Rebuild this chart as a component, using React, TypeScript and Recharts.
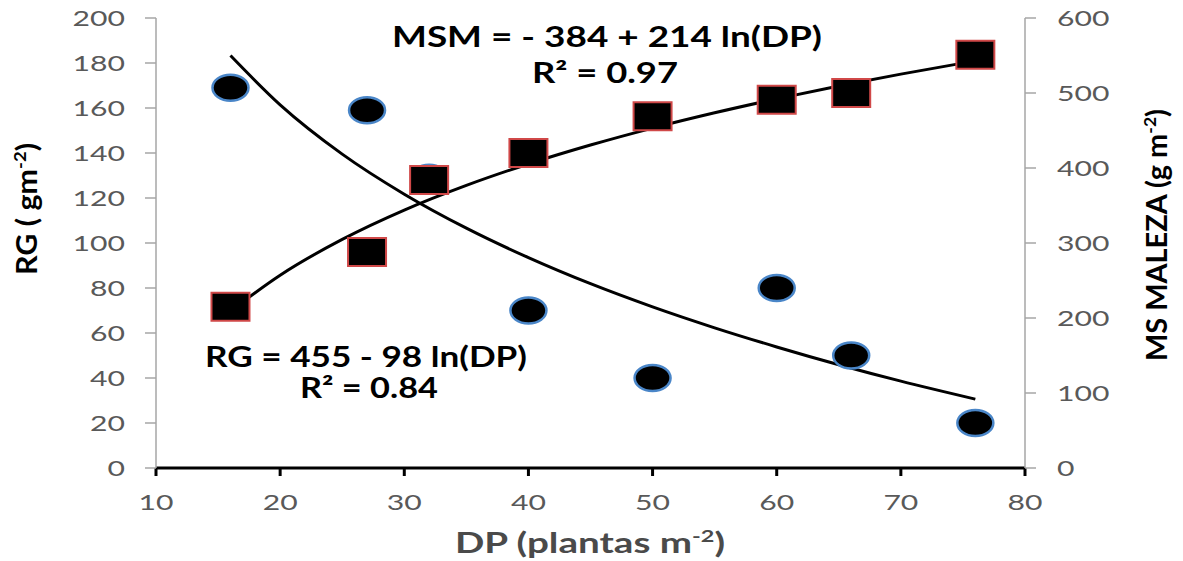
import React from 'react';
import { ComposedChart, Scatter, XAxis, YAxis, Customized } from 'recharts';

// ---- data ----
const dpTicks = [10, 20, 30, 40, 50, 60, 70, 80];
const rgTicks = [0, 20, 40, 60, 80, 100, 120, 140, 160, 180, 200];
const msTicks = [0, 100, 200, 300, 400, 500, 600];

const dpValues = [16, 27, 32, 40, 50, 60, 66, 76];
const rgValues = [169, 159, 129, 70, 40, 80, 50, 20];
const msmValues = [215, 288, 384, 420, 469, 491, 500, 551];

const trendDp = [16, 20, 25, 30, 35, 40, 45, 50, 55, 60, 65, 70, 76];
const rgTrendValues = [183.3, 161.4, 139.5, 121.7, 106.6, 93.5, 81.9, 71.6, 62.3, 53.8, 45.9, 38.6, 30.6];
const msmTrendValues = [209.3, 257.1, 304.8, 343.9, 376.8, 405.4, 430.6, 453.2, 473.6, 492.2, 509.3, 525.2, 542.8];

const rgData = dpValues.map((x, i) => ({ x, y: rgValues[i] }));
const msmData = dpValues.map((x, i) => ({ x, y: msmValues[i] }));
const rgTrend = trendDp.map((x, i) => ({ x, y: rgTrendValues[i] }));
const msmTrend = trendDp.map((x, i) => ({ x, y: msmTrendValues[i] }));

const FONT = 'Lato, "Open Sans", sans-serif';
const TICK_COLOR = '#595959';
const STRETCH = 1.37;

const LeftTick = (props: any) => {
  const { x, y, payload } = props;
  return (
    <g transform={`translate(${x},${y}) scale(${STRETCH},1)`}>
      <text x={0} y={0} dy="0.36em" textAnchor="end" fontFamily={FONT} fontSize={22} fill={TICK_COLOR}>
        {payload.value}
      </text>
    </g>
  );
};

const RightTick = (props: any) => {
  const { x, y, payload } = props;
  return (
    <g transform={`translate(${x},${y}) scale(${STRETCH},1)`}>
      <text x={0} y={0} dy="0.36em" textAnchor="start" fontFamily={FONT} fontSize={22} fill={TICK_COLOR}>
        {payload.value}
      </text>
    </g>
  );
};

const BottomTick = (props: any) => {
  const { x, y, payload } = props;
  return (
    <g transform={`translate(${x},${y}) scale(${STRETCH},1)`}>
      <text x={0} y={0} dy="0.72em" textAnchor="middle" fontFamily={FONT} fontSize={22} fill={TICK_COLOR}>
        {payload.value}
      </text>
    </g>
  );
};

const Circle = (props: any) => {
  const { cx, cy } = props;
  if (cx == null || cy == null) return <g />;
  return <ellipse cx={cx} cy={cy} rx={18} ry={13} fill="#000" stroke="#4a86c8" strokeWidth={2.5} />;
};

const Square = (props: any) => {
  const { cx, cy } = props;
  if (cx == null || cy == null) return <g />;
  return <rect x={cx - 19} y={cy - 14} width={38} height={28} fill="#000" stroke="#d04848" strokeWidth={2} />;
};

const NoShape = () => <g />;

const Annotations = () => (
  <g fontFamily={FONT} fontWeight="bold" fill="#000">
    <text x={392} y={47} fontSize={28} textLength={430} lengthAdjust="spacingAndGlyphs">
      MSM = - 384 + 214 ln(DP)
    </text>
    <text x={532} y={83} fontSize={28} textLength={146} lengthAdjust="spacingAndGlyphs">
      R² = 0.97
    </text>
    <text x={205} y={367} fontSize={28} textLength={322} lengthAdjust="spacingAndGlyphs">
      RG = 455 - 98 ln(DP)
    </text>
    <text x={300} y={398} fontSize={28} textLength={138} lengthAdjust="spacingAndGlyphs">
      R² = 0.84
    </text>
    <text
      transform="translate(37,275) rotate(-90)"
      x={0}
      y={0}
      fontSize={28}
      textLength={132}
      lengthAdjust="spacingAndGlyphs"
    >
      RG ( gm<tspan fontSize={17} dy={-11}>-2</tspan><tspan dy={11}>)</tspan>
    </text>
    <text
      transform="translate(1167,361) rotate(-90)"
      x={0}
      y={0}
      fontSize={28}
      textLength={252}
      lengthAdjust="spacingAndGlyphs"
    >
      MS MALEZA (g m<tspan fontSize={17} dy={-11}>-2</tspan><tspan dy={11}>)</tspan>
    </text>
    <text x={455} y={553} fontSize={28} fill="#4a4a4a" textLength={270} lengthAdjust="spacingAndGlyphs">
      DP (plantas m<tspan fontSize={17} dy={-11}>-2</tspan><tspan dy={11}>)</tspan>
    </text>
  </g>
);

export default function App() {
  return (
    <div style={{ position: 'absolute', left: 0, top: 0, width: 1183, height: 561, background: '#fff' }}>
      <ComposedChart width={1183} height={561} margin={{ top: 18, right: 0, bottom: 0, left: 0 }}>
        <XAxis
          type="number"
          dataKey="x"
          domain={[10, 80]}
          ticks={dpTicks}
          allowDataOverflow
          height={93}
          axisLine={{ stroke: '#000', strokeWidth: 3 }}
          tickLine={{ stroke: '#000', strokeWidth: 3 }}
          tickSize={8}
          tickMargin={18}
          tick={<BottomTick />}
        />
        <YAxis
          yAxisId="rg"
          type="number"
          dataKey="y"
          domain={[0, 200]}
          ticks={rgTicks}
          width={156}
          axisLine={{ stroke: '#a6a6a6', strokeWidth: 1.5 }}
          tickLine={{ stroke: '#a6a6a6', strokeWidth: 1.5 }}
          tickSize={11}
          tickMargin={20}
          tick={<LeftTick />}
        />
        <YAxis
          yAxisId="ms"
          orientation="right"
          type="number"
          dataKey="y"
          domain={[0, 600]}
          ticks={msTicks}
          width={158}
          axisLine={{ stroke: '#a6a6a6', strokeWidth: 1.5 }}
          tickLine={{ stroke: '#a6a6a6', strokeWidth: 1.5 }}
          tickSize={11}
          tickMargin={21}
          tick={<RightTick />}
        />
        <Scatter
          yAxisId="rg"
          data={rgTrend}
          line={{ stroke: '#000', strokeWidth: 3 }}
          lineJointType="monotoneX"
          shape={<NoShape />}
          isAnimationActive={false}
        />
        <Scatter
          yAxisId="ms"
          data={msmTrend}
          line={{ stroke: '#000', strokeWidth: 3 }}
          lineJointType="monotoneX"
          shape={<NoShape />}
          isAnimationActive={false}
        />
        <Scatter yAxisId="rg" data={rgData} shape={<Circle />} isAnimationActive={false} />
        <Scatter yAxisId="ms" data={msmData} shape={<Square />} isAnimationActive={false} />
        <Customized component={Annotations} />
      </ComposedChart>
    </div>
  );
}
